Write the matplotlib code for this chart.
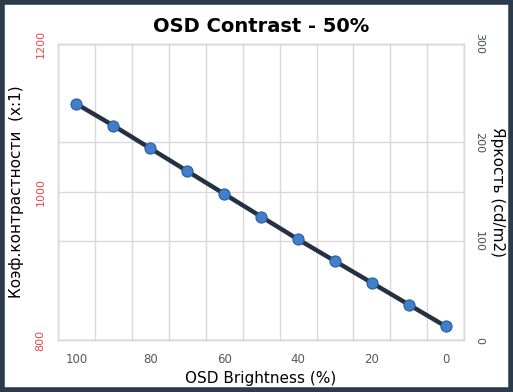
import matplotlib.pyplot as plt
from matplotlib.patches import Rectangle

# data
osd_brightness = [100, 90, 80, 70, 60, 50, 40, 30, 20, 10, 0]
luminance = [239, 217, 194, 171, 148, 125, 102, 80, 58, 36, 14]
contrast_ticks = [800, 1000, 1200]
luminance_ticks = [0, 100, 200, 300]

fig = plt.figure(figsize=(5.13, 3.92), dpi=100)
fig.patch.set_facecolor('white')

# dark frame around the picture
frame = Rectangle((0.003, 0.004), 0.994, 0.992, transform=fig.transFigure,
                  fill=False, edgecolor='#2b3b4d', linewidth=4)
fig.patches.append(frame)

ax = fig.add_axes([0.113, 0.132, 0.792, 0.757])
ax2 = ax.twinx()

n = len(osd_brightness)
xpos = list(range(n))

# left axis - contrast ratio (no series drawn)
ax.set_ylim(800, 1200)
ax.set_yticks(contrast_ticks)
ax.set_yticklabels([str(t) for t in contrast_ticks], rotation=90, va='center',
                   color='#e8474a', fontsize=8)
ax.set_xlim(-0.5, n - 0.5)
ax.set_xticks(xpos[::2])
ax.set_xticklabels([str(v) for v in osd_brightness[::2]], color='#595959', fontsize=8.5)
ax.set_xticks([i - 0.5 for i in range(n + 1)], minor=True)
ax.tick_params(axis='both', which='both', length=0)
ax.tick_params(axis='x', pad=9)
ax.tick_params(axis='y', pad=9)
ax.grid(True, which='minor', axis='x', color='#d9d9d9', linewidth=1)
ax.grid(True, which='major', axis='y', color='#d9d9d9', linewidth=1)
ax.set_axisbelow(True)

# right axis - luminance
ax2.set_ylim(0, 300)
ax2.set_yticks(luminance_ticks)
ax2.set_yticklabels([str(t) for t in luminance_ticks], rotation=270, va='center',
                    color='#3f4f5f', fontsize=8)
ax2.tick_params(axis='y', length=0, pad=7)
ax2.grid(True, axis='y', color='#d9d9d9', linewidth=1)
ax2.set_axisbelow(True)

ax2.plot(xpos, luminance, color='#243142', linewidth=3.2, marker='o',
         markersize=8, markerfacecolor='#3f7fcc', markeredgecolor='#2b5e9e',
         markeredgewidth=0.8, zorder=5)

for a in (ax, ax2):
    for s in a.spines.values():
        s.set_color('#d9d9d9')
        s.set_linewidth(1)

ax.set_title('OSD Contrast - 50%', fontsize=14, fontweight='bold', pad=8)
ax.set_xlabel('OSD Brightness (%)', fontsize=11, labelpad=4)
ax.set_ylabel('Коэф.контрастности  (x:1)', fontsize=11, labelpad=8)
ax2.set_ylabel('Яркость (cd/m2)', fontsize=11, rotation=270, labelpad=15)

fig.savefig('out.png', dpi=100)
